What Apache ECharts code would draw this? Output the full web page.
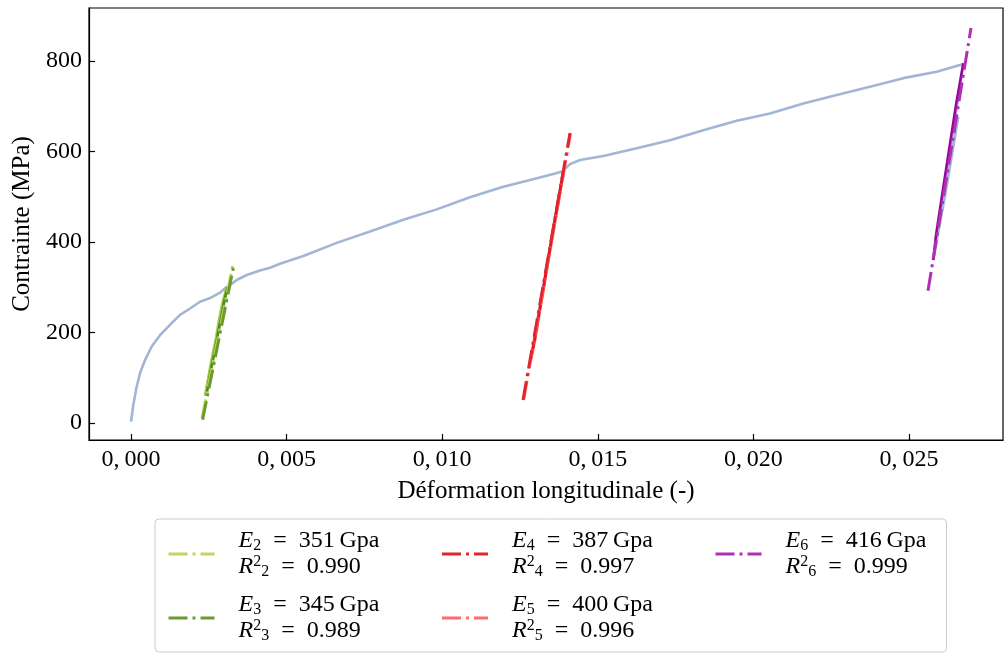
<!DOCTYPE html>
<html><head><meta charset="utf-8">
<script src="https://cdn.jsdelivr.net/npm/echarts@6/dist/echarts.min.js"></script>
<style>html,body{margin:0;padding:0;background:#fff}#c{width:1005px;height:653px}</style>
</head><body><div id="c"></div>
<script>
// Axis ticks
const xTicks = [0, 0.005, 0.010, 0.015, 0.020, 0.025];
const yTicks = [0, 200, 400, 600, 800];

// Main stress-strain curve (with unload/reload cycles)
const curveX = [0, 0.000075, 0.000182, 0.000289, 0.00045, 0.000664, 0.000932, 0.001253, 0.001575, 0.001896, 0.002217, 0.002539, 0.00286, 0.003075,
  0.00238, 0.00310,
  0.003395, 0.003717, 0.004145, 0.004467, 0.004788, 0.005537, 0.00661, 0.00768, 0.00875, 0.009823, 0.010893, 0.011963, 0.012821, 0.01357, 0.01388,
  0.01284, 0.0139,
  0.014107, 0.014428, 0.015177, 0.01625, 0.01732, 0.01839, 0.019463, 0.020533, 0.021603, 0.022677, 0.023747, 0.024817, 0.02589, 0.026745,
  0.02578, 0.026189, 0.026584];
const curveY = [3, 40, 80, 110, 139, 169, 194, 217, 239, 253, 268, 276, 288, 301,
  60, 300,
  316, 327, 337, 343, 352, 369, 398, 423, 449, 472, 499, 522, 537, 550, 556,
  139, 559,
  572, 581, 590, 607, 625, 647, 668, 684, 706, 725, 743, 762, 776, 793,
  360, 515, 677];

// Measured unloading / reloading segments
const segE2X = [0.003075, 0.002924, 0.002828, 0.002731, 0.002635, 0.002539, 0.002474, 0.002378];
const segE2Y = [301, 261, 228, 188, 157, 122, 95, 60];
const segE3X = [0.003101, 0.002988, 0.002892, 0.002796, 0.002699, 0.002603, 0.002506, 0.002426];
const segE3Y = [300, 267, 232, 199, 161, 130, 95, 62];
const segE4X = [0.013898, 0.013753, 0.013625, 0.013496, 0.013368, 0.013239, 0.013111, 0.012982, 0.012838];
const segE4Y = [559, 503, 453, 400, 349, 294, 243, 190, 139];
const segE5X = [0.013915, 0.013770, 0.013645, 0.013512, 0.013390, 0.013255, 0.013130, 0.012998, 0.012860];
const segE5Y = [557, 502, 452, 398, 350, 293, 244, 189, 142];
const segE6X = [0.026745, 0.02651, 0.026285, 0.02606, 0.025867, 0.025781];
const segE6Y = [795, 703, 603, 502, 415, 360];

// Linear fits (dash-dot)
const fitE2X = [0.002281, 0.003278]; const fitE2Y = [11, 351];
const fitE3X = [0.002300, 0.003300]; const fitE3Y = [7, 347];
const fitE4X = [0.012596, 0.014107]; const fitE4Y = [51, 641];
const fitE5X = [0.012620, 0.014120]; const fitE5Y = [52, 639];
const fitE6X = [0.025610, 0.026992]; const fitE6Y = [292, 873];

// Legend values
const fitNames = ['E2', 'E3', 'E4', 'E5', 'E6'];
const fitIdx = ['2', '3', '4', '5', '6'];
const fitModulus = ['351', '345', '387', '400', '416'];
const fitR2 = ['0.990', '0.989', '0.997', '0.996', '0.999'];

const FONT = '"Liberation Serif", "DejaVu Serif", serif';
const zip = (xs, ys) => xs.map((x, i) => [x, ys[i]]);

const colors = {
  E2: '#b9d762', E3: '#6b9a2e', E4: '#e0262c', E5: '#ff6a6a', E6: '#b22fb5'
};
const segColors = {
  E2: '#a9cc4a', E3: '#4f8a1c', E4: '#e8141c', E5: '#ff4a4a', E6: '#95059a'
};
const segs = {E2: [segE2X, segE2Y], E3: [segE3X, segE3Y], E4: [segE4X, segE4Y], E5: [segE5X, segE5Y], E6: [segE6X, segE6Y]};
const fits = {E2: [fitE2X, fitE2Y], E3: [fitE3X, fitE3Y], E4: [fitE4X, fitE4Y], E5: [fitE5X, fitE5Y], E6: [fitE6X, fitE6Y]};
const drawOrder = ['E2', 'E3', 'E5', 'E4', 'E6'];

const series = [{
  name: 'curve', type: 'line', data: zip(curveX, curveY), symbol: 'none', z: 2,
  lineStyle: {color: '#a2b6d4', width: 2.6}
}];
drawOrder.forEach(n => series.push({
  name: n + '_data', type: 'line', data: zip(segs[n][0], segs[n][1]), symbol: 'none', z: 3,
  lineStyle: {color: segColors[n], width: 2.6}
}));
drawOrder.forEach(n => series.push({
  name: n, type: 'line', data: zip(fits[n][0], fits[n][1]), symbol: 'none', z: 4,
  itemStyle: {color: colors[n]},
  lineStyle: {color: colors[n], width: 3, type: [19, 5, 3, 5], cap: 'butt'}
}));

const axisTxt = {fontFamily: FONT, fontSize: 24, color: '#000'};
const nameTxt = {fontFamily: FONT, fontSize: 25, color: '#000'};
const chart = echarts.init(document.getElementById('c'), null, {renderer: 'canvas'});
chart.setOption({
  animation: false,
  backgroundColor: '#fff',
  grid: {left: 89, right: 2, top: 8, bottom: 213, show: true, borderColor: '#000', borderWidth: 1.2, backgroundColor: 'transparent'},
  xAxis: {
    type: 'value', min: -0.00135, max: 0.02802,
    name: 'Déformation longitudinale (-)', nameLocation: 'middle', nameGap: 39,
    nameTextStyle: nameTxt,
    axisLine: {show: true, onZero: false, lineStyle: {color: '#000', width: 1.2}},
    axisTick: {show: true, inside: true, length: 6, customValues: xTicks, lineStyle: {color: '#000', width: 1.2}},
    axisLabel: Object.assign({customValues: xTicks, margin: 8, formatter: v => v.toFixed(3).replace('.', ',\u2009')}, axisTxt),
    splitLine: {show: false}
  },
  yAxis: {
    type: 'value', min: -37.6, max: 917,
    name: 'Contrainte (MPa)', nameLocation: 'middle', nameGap: 53, nameRotate: 90,
    nameTextStyle: nameTxt,
    axisLine: {show: true, onZero: false, lineStyle: {color: '#000', width: 1.2}},
    axisTick: {show: true, inside: true, length: 6, customValues: yTicks, lineStyle: {color: '#000', width: 1.2}},
    axisLabel: Object.assign({customValues: yTicks, margin: 7}, axisTxt),
    splitLine: {show: false}
  },
  legend: {
    left: 155, top: 519, orient: 'horizontal', width: 820,
    itemGap: 12, itemWidth: 46, itemHeight: 14,
    padding: [9, 12, 8, 12],
    borderColor: '#cccccc', borderWidth: 1, borderRadius: 4,
    itemStyle: {opacity: 0},
    lineStyle: {width: 3, type: 'inherit', cap: 'butt'},
    data: [
      {name: 'E2', textStyle: {width: 209}},
      {name: 'E4', textStyle: {width: 209}},
      {name: 'E6', textStyle: {width: 168}},
      {name: 'E3', textStyle: {width: 209}},
      {name: 'E5', textStyle: {width: 209}}
    ],
    formatter: name => {
      const i = fitNames.indexOf(name);
      return '{pad|}{it|E}{sub|' + fitIdx[i] + '}{n|\u2002=\u2002' + fitModulus[i] + '\u2009Gpa}\n' +
             '{pad|}{it|R}{sup|2}{sub|' + fitIdx[i] + '}{n|\u2002=\u2002' + fitR2[i] + '}';
    },
    textStyle: {
      color: '#000', fontFamily: FONT, fontSize: 24, lineHeight: 26,
      rich: {
        pad: {width: 19, height: 26},
        n: {fontFamily: FONT, fontSize: 24, lineHeight: 26, color: '#000'},
        it: {fontFamily: FONT, fontSize: 24, lineHeight: 26, fontStyle: 'italic', color: '#000'},
        sub: {fontFamily: FONT, fontSize: 16, lineHeight: 11, verticalAlign: 'bottom', color: '#000'},
        sup: {fontFamily: FONT, fontSize: 16, lineHeight: 11, verticalAlign: 'top', color: '#000'}
      }
    }
  },
  series: series
});
</script></body></html>
